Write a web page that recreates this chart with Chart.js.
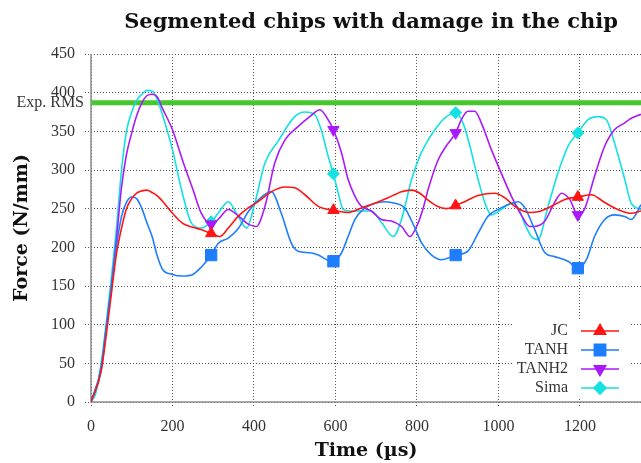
<!DOCTYPE html>
<html>
<head>
<meta charset="utf-8">
<script src="https://cdn.jsdelivr.net/npm/chart.js@4"></script>
<style>
  html, body { margin: 0; padding: 0; background: #fff; }
  canvas { display: block; }
</style>
</head>
<body>
<canvas id="myChart" width="641" height="463"></canvas>
<script>
// values (time in µs, force in N/mm)
const jcTime = [0,25,37,50,62,75,87,100,112,125,137,150,162,175,200,225,250,270,295,316,337,361,386,410,443,476,500,525,558,595,631,664,697,729,762,787,807,825,850,872,895,917,950,991,1016,1040,1077,1097,1130,1163,1195,1228,1261,1293,1326,1350];
const jcForce = [0,40,85,140,190,225,250,263,270,273,274,271,267,260,244,231,226,223,218,214,225,240,251,259,272,278,277,268,253,248,245,251,257,264,272,274,270,262,253,250,254,259,267,270,264,253,245,246,253,262,265,268,258,249,244,247];

const tanhTime = [0,25,37,50,62,75,87,100,112,125,137,150,162,175,200,225,250,270,295,312,337,361,386,410,443,467,492,508,537,558,582,595,615,631,648,668,697,721,746,770,795,811,836,860,895,925,950,974,1007,1032,1049,1065,1089,1114,1138,1171,1195,1216,1236,1261,1285,1310,1326,1350];
const tanhForce = [0,45,95,150,200,240,258,265,263,250,232,214,190,172,165,163,165,174,190,205,212,224,246,261,272,244,205,195,193,190,183,182,193,214,236,249,257,259,257,251,225,206,190,184,190,195,218,240,251,257,259,251,223,193,188,182,173,184,214,236,242,240,236,255];

const tanh2Time = [0,25,37,50,62,75,87,100,112,125,137,150,162,175,200,225,250,270,295,312,337,361,386,406,427,451,476,508,537,562,582,595,615,631,648,664,688,713,737,762,783,800,815,827,852,872,895,909,925,942,958,983,1007,1032,1057,1077,1089,1114,1138,1155,1175,1195,1211,1236,1261,1285,1310,1326,1350];
const tanh2Force = [0,42,92,148,208,278,320,348,370,387,396,398,395,380,352,312,275,245,230,236,249,241,230,227,253,309,339,356,369,378,365,352,322,288,266,253,247,236,234,227,214,228,250,274,313,331,348,365,376,376,361,326,296,266,241,227,227,234,258,270,262,242,249,292,331,352,361,367,372];

const simaTime = [0,12,25,37,50,62,75,87,100,112,125,137,150,162,175,200,222,247,271,295,312,337,357,382,402,427,459,500,525,549,565,582,595,607,619,635,660,688,713,742,762,787,807,819,844,868,895,913,930,950,970,983,1007,1032,1049,1064,1081,1097,1122,1146,1171,1195,1220,1244,1265,1285,1310,1326,1350];
const simaForce = [0,12,50,100,160,222,300,350,375,390,398,403,402,392,372,326,275,231,225,233,244,259,244,225,257,309,337,369,375,372,352,318,295,270,249,247,247,247,232,214,236,288,318,331,352,367,374,361,331,288,253,242,249,257,251,231,214,210,253,296,331,348,365,369,365,335,288,257,249];

const markerTimes = [295, 595, 895, 1195];
const expRms = 387;
const timeRange = [0, 1350];
const xTickValues = [0, 200, 400, 600, 800, 1000, 1200];
const yTickValues = [0, 50, 100, 150, 200, 250, 300, 350, 400, 450];

const serif = 'Liberation Serif';
const boldSerif = 'DejaVu Serif';

function pairs(times, values) {
    return times.map((t, i) => ({ x: t, y: values[i] }));
}

function series(label, times, values, color, style, size, rotation) {
    return {
        label: label,
        data: pairs(times, values),
        borderColor: color,
        backgroundColor: color,
        borderWidth: 1.6,
        cubicInterpolationMode: 'monotone',
        pointStyle: style,
        pointRotation: rotation || 0,
        pointRadius: c => (c.raw && markerTimes.includes(c.raw.x)) ? size : 0,
        pointHoverRadius: 0,
        pointBorderWidth: 1,
        markerSize: size,
        order: 1
    };
}

const datasets = [
    series('JC', jcTime, jcForce, 'rgb(255,20,20)', 'triangle', 6.5),
    series('TANH', tanhTime, tanhForce, 'rgb(30,125,255)', 'rect', 8),
    series('TANH2', tanh2Time, tanh2Force, 'rgb(170,25,250)', 'triangle', 6.5, 180),
    series('Sima', simaTime, simaForce, 'rgb(20,225,225)', 'rectRot', 6),
    {
        label: 'Exp. RMS',
        data: timeRange.map(t => ({ x: t, y: expRms })),
        borderColor: 'rgb(70,200,45)',
        borderWidth: 5,
        pointRadius: 0,
        order: 10
    }
];

// solid axis lines (the grid dash would otherwise apply to them too)
const axisLines = {
    id: 'axisLines',
    beforeDatasetsDraw(chart) {
        const ctx = chart.ctx;
        const a = chart.chartArea;
        ctx.save();
        ctx.strokeStyle = '#8c8c8c';
        ctx.lineWidth = 1.5;
        ctx.beginPath();
        ctx.moveTo(a.left, a.top);
        ctx.lineTo(a.left, a.bottom);
        ctx.lineTo(a.right, a.bottom);
        ctx.stroke();
        ctx.restore();
    }
};

// title, "Exp. RMS" label and the boxed legend
const extras = {
    id: 'extras',
    afterDraw(chart) {
        const ctx = chart.ctx;
        const area = chart.chartArea;
        const yScale = chart.scales.y;
        ctx.save();

        ctx.fillStyle = '#111';
        ctx.font = 'bold 21px "' + boldSerif + '"';
        ctx.textAlign = 'center';
        ctx.textBaseline = 'middle';
        ctx.fillText('Segmented chips with damage in the chip', (area.left + area.right) / 2 + 5, 23);

        ctx.fillStyle = '#333';
        ctx.font = '16px "' + serif + '"';
        ctx.textAlign = 'right';
        ctx.fillText('Exp. RMS', area.left - 7, yScale.getPixelForValue(expRms));

        // legend box
        ctx.fillStyle = '#fff';
        ctx.fillRect(513, 321, 118, 78);
        const items = chart.data.datasets.filter(d => d.markerSize);
        items.forEach((ds, i) => {
            const y = 331 + i * 19;
            ctx.fillStyle = '#333';
            ctx.font = '16px "' + serif + '"';
            ctx.textAlign = 'right';
            ctx.fillText(ds.label, 568, y);
            ctx.strokeStyle = ds.borderColor;
            ctx.lineWidth = ds.borderWidth;
            ctx.beginPath();
            ctx.moveTo(581, y);
            ctx.lineTo(619, y);
            ctx.stroke();
            ctx.fillStyle = ds.borderColor;
            Chart.helpers.drawPoint(ctx, {
                pointStyle: ds.pointStyle,
                rotation: ds.pointRotation,
                radius: ds.markerSize,
                borderWidth: 1
            }, 600, y);
        });
        ctx.restore();
    }
};

const gridStyle = {
    color: '#555',
    lineWidth: 1,
    tickLength: 6,
    tickBorderDash: [1, 2]
};
const borderStyle = { display: false, dash: [1, 2] };

const config = {
    type: 'line',
    data: { datasets: datasets },
    options: {
        responsive: false,
        animation: false,
        events: [],
        layout: { padding: { top: 54, right: 0, left: 0, bottom: 0 } },
        plugins: {
            legend: { display: false },
            tooltip: { enabled: false }
        },
        scales: {
            x: {
                type: 'linear',
                min: timeRange[0],
                max: timeRange[1],
                grid: gridStyle,
                border: borderStyle,
                afterBuildTicks: s => { s.ticks = xTickValues.map(v => ({ value: v })); },
                afterFit: s => { s.height = 61; },
                ticks: {
                    includeBounds: false,
                    padding: 9,
                    color: '#333',
                    font: { family: serif, size: 16 },
                    callback: v => String(v)
                },
                title: {
                    display: true,
                    text: 'Time (µs)',
                    color: '#111',
                    font: { family: boldSerif, size: 19, weight: 'bold' },
                    padding: { top: 0, bottom: 1 }
                }
            },
            y: {
                min: 0,
                max: 450,
                grid: gridStyle,
                border: borderStyle,
                afterBuildTicks: s => { s.ticks = yTickValues.map(v => ({ value: v })); },
                afterFit: s => { s.width = 91; },
                ticks: {
                    padding: 10,
                    color: '#333',
                    font: { family: serif, size: 16 },
                    callback: v => String(v)
                },
                title: {
                    display: true,
                    text: 'Force (N/mm)',
                    color: '#111',
                    font: { family: boldSerif, size: 19, weight: 'bold' },
                    padding: { top: 11, bottom: 0 }
                }
            }
        }
    },
    plugins: [axisLines, extras]
};

const myChart = new Chart(document.getElementById('myChart'), config);
</script>
</body>
</html>
